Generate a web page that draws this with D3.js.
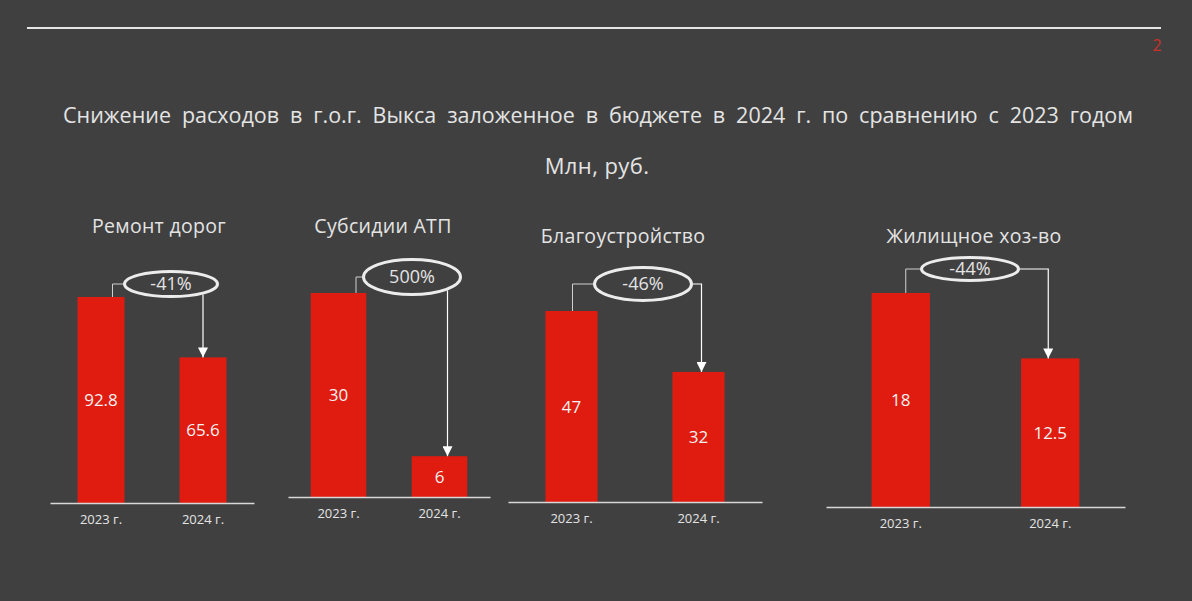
<!DOCTYPE html>
<html>
<head>
<meta charset="utf-8">
<script src="https://cdn.jsdelivr.net/npm/d3@7"></script>
<style>
  body { margin: 0; background: #404040; }
  svg { display: block; font-family: "Open Sans", sans-serif; }
</style>
</head>
<body>
<div id="chart"></div>
<script>
// data
var years = ["2023 г.", "2024 г."];
var panelTitles = ["Ремонт дорог", "Субсидии АТП", "Благоустройство", "Жилищное хоз-во"];
var values2023 = [92.8, 30, 47, 18];
var values2024 = [65.6, 6, 32, 12.5];
var changeLabels = ["-41%", "500%", "-46%", "-44%"];
var valueLabels2023 = ["92.8", "30", "47", "18"];
var valueLabels2024 = ["65.6", "6", "32", "12.5"];

var mainTitle = "Снижение расходов в г.о.г. Выкса заложенное в бюджете в 2024 г. по сравнению с 2023 годом";
var subTitle = "Млн, руб.";

// layout of each small chart (pixels)
var layout = [
  {x0: 50,  x1: 254,  base: 503, h: 206, pad: 0.54, tx: 159, ty: 226, cx: 171, cy: 284, rx: 48, ry: 14, dl: 11.5, dr: 0},
  {x0: 288, x1: 490,  base: 497, h: 204, pad: 0.45, tx: 383, ty: 226, cx: 412, cy: 277, rx: 50, ry: 19, dl: 17.5, dr: 8},
  {x0: 508, x1: 762,  base: 502, h: 191, pad: 0.59, tx: 623, ty: 236, cx: 643, cy: 284, rx: 50, ry: 18, dl: 1, dr: 3},
  {x0: 826, x1: 1125, base: 507, h: 214, pad: 0.61, tx: 974, ty: 236, cx: 970, cy: 269, rx: 50, ry: 13, dl: 5, dr: -2}
];

var W = 1192, H = 601;
var textColor = "#e4e4e4", barColor = "#e01c10";

var svg = d3.select("#chart").append("svg")
    .attr("width", W)
    .attr("height", H);

svg.append("rect").attr("width", W).attr("height", H).attr("fill", "#404040");

var defs = svg.append("defs");
defs.append("marker")
    .attr("id", "arrow")
    .attr("viewBox", "0 0 10 10")
    .attr("refX", 10).attr("refY", 5)
    .attr("markerWidth", 10).attr("markerHeight", 10)
    .attr("markerUnits", "userSpaceOnUse")
    .attr("orient", "auto")
  .append("path")
    .attr("d", "M0,0 L10,5 L0,10 Z")
    .attr("fill", "#ffffff");

// header
svg.append("line")
    .attr("x1", 27).attr("x2", 1161)
    .attr("y1", 28).attr("y2", 28)
    .attr("stroke", "#e6e6e6").attr("stroke-width", 2);

svg.append("text")
    .attr("x", 1157).attr("y", 51)
    .attr("text-anchor", "middle")
    .style("font-size", "16px")
    .attr("fill", "#cc3129")
    .text("2");

var t = svg.append("text")
    .attr("x", 63).attr("y", 123)
    .style("font-size", "21.5px")
    .attr("fill", textColor)
    .text(mainTitle);
// spread words over the same width as the original
var gaps = mainTitle.split(" ").length - 1;
var extra = (1070 - t.node().getComputedTextLength()) / gaps;
t.style("word-spacing", extra + "px");

svg.append("text")
    .attr("x", 597).attr("y", 174)
    .attr("text-anchor", "middle")
    .style("font-size", "22px")
    .style("letter-spacing", "0.4px")
    .attr("fill", textColor)
    .text(subTitle);

// panels
panelTitles.forEach(function(title, i) {
    var L = layout[i];
    var g = svg.append("g");
    var vals = [values2023[i], values2024[i]];
    var labs = [valueLabels2023[i], valueLabels2024[i]];

    var x = d3.scaleBand()
        .domain(years)
        .range([L.x0, L.x1])
        .paddingInner(L.pad)
        .paddingOuter(L.pad / 2);

    var y = d3.scaleLinear()
        .domain([0, values2023[i]])
        .range([L.base, L.base - L.h]);

    g.append("text")
        .attr("x", L.tx)
        .attr("y", L.ty + 7)
        .attr("text-anchor", "middle")
        .style("font-size", "19.5px")
        .style("letter-spacing", "0.3px")
        .attr("fill", textColor)
        .text(title);

    g.selectAll("rect.bar")
        .data(vals)
        .enter().append("rect")
        .attr("class", "bar")
        .attr("x", function(d, j) { return x(years[j]); })
        .attr("y", function(d) { return y(d); })
        .attr("width", x.bandwidth())
        .attr("height", function(d) { return L.base - y(d); })
        .attr("fill", barColor);

    g.selectAll("text.val")
        .data(vals)
        .enter().append("text")
        .attr("class", "val")
        .attr("x", function(d, j) { return x(years[j]) + x.bandwidth() / 2; })
        .attr("y", function(d) { return (y(d) + L.base) / 2; })
        .attr("dy", "0.36em")
        .attr("text-anchor", "middle")
        .style("font-size", "17px")
        .attr("fill", "#f2f2f2")
        .text(function(d, j) { return labs[j]; });

    // baseline + year labels
    var axis = g.append("g")
        .attr("transform", "translate(0," + L.base + ")")
        .call(d3.axisBottom(x).tickSize(0).tickPadding(12));
    axis.select(".domain").attr("stroke", "#d8d8d8").attr("stroke-width", 1.5);
    axis.selectAll("text")
        .style("font-size", "13px")
        .style("font-family", "'Open Sans', sans-serif")
        .attr("fill", textColor);

    // connectors
    var c1 = x(years[0]) + x.bandwidth() / 2 + L.dl;
    var c2 = x(years[1]) + x.bandwidth() / 2 + L.dr;

    g.append("path")
        .attr("d", "M" + c1 + "," + y(vals[0]) + " V" + L.cy + " H" + (L.cx - L.rx))
        .attr("fill", "none")
        .attr("stroke", "#cfcfcf")
        .attr("stroke-width", 1);

    var startPath;
    if (c2 < L.cx + L.rx) {
        var k = (c2 - L.cx) / L.rx;
        var ey = L.cy + L.ry * Math.sqrt(1 - k * k);
        startPath = "M" + c2 + "," + ey;
    } else {
        startPath = "M" + (L.cx + L.rx) + "," + L.cy + " H" + c2;
    }
    g.append("path")
        .attr("d", startPath + " V" + y(vals[1]))
        .attr("fill", "none")
        .attr("stroke", "#ffffff")
        .attr("stroke-width", 1.2)
        .attr("marker-end", "url(#arrow)");

    g.append("ellipse")
        .attr("cx", L.cx).attr("cy", L.cy)
        .attr("rx", L.rx - 1.5).attr("ry", L.ry - 1.5)
        .attr("fill", "none")
        .attr("stroke", "#ececec")
        .attr("stroke-width", 3);

    g.append("text")
        .attr("x", L.cx).attr("y", L.cy)
        .attr("dy", "0.36em")
        .attr("text-anchor", "middle")
        .style("font-size", "18px")
        .attr("fill", textColor)
        .text(changeLabels[i]);
});
</script>
</body>
</html>
